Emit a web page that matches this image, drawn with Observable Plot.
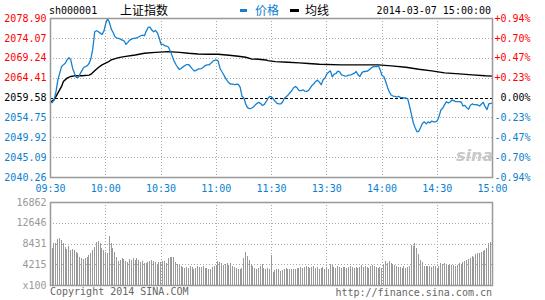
<!DOCTYPE html>
<html><head><meta charset="utf-8">
<script src="https://cdn.jsdelivr.net/npm/d3@7"></script>
<script src="https://cdn.jsdelivr.net/npm/@observablehq/plot@0.6"></script>
<style>
body{margin:0;background:#fff;}
#wrap{position:relative;width:545px;height:300px;overflow:hidden;background:#fff;font-family:"DejaVu Sans Mono",monospace;font-size:10px;}
#wrap svg{position:absolute;left:0;top:0;}
.t{position:absolute;white-space:nowrap;line-height:12px;}
.cjk{font-family:"Noto Sans CJK SC",sans-serif;font-size:12px;line-height:14px;}
</style></head>
<body><div id="wrap"></div>
<script>
// ---- data ----
const symbol = "sh000001";
const indexName = "上证指数";
const legendNames = ["价格", "均线"];
const stamp = "2014-03-07 15:00:00";
const prevClose = 2059.58;
const yTicks = [2078.90, 2074.07, 2069.24, 2064.41, 2059.58, 2054.75, 2049.92, 2045.09, 2040.26];
const pctLabels = ["+0.94%", "+0.70%", "+0.47%", "+0.23%", "0.00%", "-0.23%", "-0.47%", "-0.70%", "-0.94%"];
const xTickMin = [0, 30, 60, 90, 120, 150, 180, 210, 240];
const xTickLabels = ["09:30", "10:00", "10:30", "11:00", "11:30", "13:30", "14:00", "14:30", "15:00"];
const volTicks = [16862, 12646, 8431, 4215];
const volUnit = "x100";

const priceMin = [0,1,2,3,4,5,6,7,8,9,10,11,12,13,14,15,16,17,18,20,21,22,23,24,25,26,27,28,29,30,31,32,33,34,35,36,37,38,39,40,41,42,43,44,45,46,47,48,49,50,51,52,53,54,55,56,57,58,59,60,61,62,63,64,65,66,67,68,69,70,71,72,73,74,75,76,77,78,79,80,81,82,83,84,85,86,87,88,89,90,91,92,93,94,95,96,97,98,99,100,101,102,103,104,105,106,107,108,109,110,111,112,113,114,115,116,117,118,119,120,121,122,123,124,125,126,127,128,129,130,131,132,133,134,135,136,137,138,139,140,141,142,143,144,145,146,147,148,149,150,151,152,153,154,155,156,157,158,159,160,161,162,163,164,165,166,167,168,169,170,171,172,173,174,175,176,177,178,179,180,181,182,183,184,185,186,187,188,189,190,191,192,193,194,195,196,197,198,199,200,201,202,203,204,205,206,207,208,209,210,211,212,213,214,215,216,217,218,219,220,221,222,223,224,225,226,227,228,229,230,231,232,233,234,235,236,237,238,239,240];
const priceVal = [2058.52,2058.45,2059.17,2061.19,2064.00,2065.61,2067.22,2067.63,2068.03,2068.83,2069.40,2068.83,2066.82,2065.61,2064.57,2064.57,2065.37,2066.18,2066.98,2067.46,2068.03,2069.24,2071.65,2075.68,2075.92,2075.68,2075.35,2075.03,2075.84,2077.69,2078.90,2077.93,2076.32,2075.51,2074.47,2074.15,2074.07,2073.90,2073.66,2073.42,2072.62,2073.10,2073.66,2073.90,2074.07,2074.07,2074.23,2074.47,2074.71,2074.87,2074.71,2075.84,2076.72,2076.80,2076.08,2075.68,2076.00,2075.43,2074.23,2072.62,2072.62,2072.29,2072.21,2071.97,2071.01,2069.88,2068.67,2067.79,2067.06,2066.50,2066.82,2067.14,2067.46,2067.71,2067.71,2067.22,2066.66,2066.18,2066.26,2066.58,2066.66,2066.74,2067.06,2067.46,2067.63,2067.63,2067.95,2068.43,2068.75,2068.83,2068.59,2066.82,2066.02,2065.29,2064.41,2063.76,2063.20,2062.96,2062.96,2062.80,2062.96,2062.88,2062.15,2059.98,2059.58,2058.13,2057.24,2057.00,2057.08,2057.32,2057.80,2058.21,2058.53,2058.29,2057.80,2057.97,2058.61,2059.41,2059.98,2059.82,2059.33,2058.77,2058.29,2058.13,2058.13,2058.61,2059.50,2059.90,2060.30,2060.86,2061.35,2062.07,2062.39,2061.99,2061.35,2061.35,2061.59,2061.27,2061.19,2061.35,2061.99,2062.64,2063.04,2063.60,2063.92,2063.44,2062.80,2064.00,2064.41,2065.37,2065.85,2066.18,2064.73,2065.37,2065.53,2066.10,2065.94,2065.21,2065.05,2064.89,2064.97,2065.13,2065.21,2065.37,2065.61,2066.02,2065.21,2064.81,2065.69,2066.02,2066.02,2066.10,2066.42,2066.82,2067.14,2067.22,2067.22,2067.46,2066.42,2065.05,2064.81,2063.60,2062.15,2061.03,2060.30,2060.06,2059.98,2059.82,2059.98,2059.74,2059.66,2059.58,2059.58,2059.33,2057.56,2055.55,2053.54,2052.33,2051.36,2051.52,2052.49,2053.46,2053.78,2053.30,2053.78,2053.54,2053.94,2053.78,2053.78,2054.02,2055.15,2056.68,2057.16,2057.97,2058.69,2058.37,2058.61,2059.09,2058.93,2058.69,2058.69,2058.69,2058.61,2057.64,2057.80,2057.24,2056.84,2057.80,2058.13,2057.97,2057.97,2057.88,2057.64,2058.13,2058.53,2057.48,2056.76,2058.13,2058.29,2058.29];

const avgMin = [0,2,4,6,7,9,11,13,17,21,22,24,26,28,31,33,37,40,46,51,57,64,70,75,80,86,91,97,102,106,109,113,117,118,122,129,135,140,146,158,173,178,185,193,200,207,214,222,229,236,240];
const avgVal = [2058.61,2059.17,2060.78,2062.39,2063.60,2064.41,2064.81,2064.97,2064.97,2065.13,2065.37,2066.18,2066.98,2067.63,2068.27,2068.83,2069.40,2069.64,2070.04,2070.44,2070.68,2070.85,2070.68,2070.44,2070.28,2070.20,2070.20,2069.96,2069.72,2069.48,2069.07,2068.99,2068.83,2068.67,2068.43,2068.27,2068.11,2067.95,2067.79,2067.63,2067.63,2067.63,2067.38,2067.06,2066.58,2066.18,2065.69,2065.45,2065.21,2064.97,2064.89];

const volume = [
7450,8460,8600,9270,9470,9130,8460,7790,7250,7930,
7110,7250,7110,6770,6430,5770,5430,5220,5430,5770,
6090,6430,7110,7790,8800,9000,8460,7450,7110,6770,
6430,9950,8460,7450,6770,5770,4960,5090,5430,5200,
4960,4760,5220,5090,5430,5090,5430,5090,4760,4960,
4420,4420,4760,4960,5090,4960,4760,4290,4760,4760,
4960,4890,4420,5430,5630,5770,5630,4620,4290,4080,
3890,3620,3480,3620,3480,3820,3620,3150,3480,3820,
3620,3620,3820,3480,3480,3350,3150,3620,3820,4080,
4890,4760,4560,4080,4290,4420,4080,4560,3820,3620,
3480,3350,3150,3480,5430,6770,5900,5090,4290,3760,
3480,3150,3480,3820,4290,3480,3150,3480,3150,6090,
2740,3010,3150,3150,2880,3010,3220,3480,3350,3150,
3150,3350,3150,3480,3480,3620,3480,3620,3820,3620,
3480,3620,3820,3480,3620,3350,3480,3620,3350,3620,
3150,4290,4160,3620,3480,3820,3620,3480,3620,3620,
3480,3620,3820,3620,3480,3620,3480,3620,4020,3620,
3820,3620,3480,3820,4020,3820,3620,3480,3620,3480,
4020,4960,4420,4960,4420,4220,4020,3760,3620,3620,
3480,3820,3480,3620,3820,8100,7990,8460,7450,6230,
5090,4760,3890,3760,3890,3760,3620,3890,3760,3480,
3890,4420,4220,4420,4220,4020,4220,4020,4020,3760,
4020,4420,4220,4760,4960,5090,5220,5430,5900,5630,
6230,6430,6570,6770,6980,7180,7450,8460,8800,9950];

// ---- styles ----
const RED = "#ff0000", BLUE = "#0a80d0", LINE_BLUE = "#1580d0", GRID = "#aaaaaa", FRAME = "#999999";
const FONT = "DejaVu Sans Mono";
const W = 545, H = 300, ML = 50, MR = 53;

const wrap = document.getElementById("wrap");

const priceData = priceMin.map((m, i) => ({m, p: priceVal[i]}));
const avgData = avgMin.map((m, i) => ({m, p: avgVal[i]}));
const yLab = yTicks.map((v, i) => ({v, label: v.toFixed(2), pct: pctLabels[i],
  color: v > prevClose + 0.001 ? RED : (Math.abs(v - prevClose) < 0.001 ? "#000" : BLUE)}));
const xLab = xTickMin.map((m, i) => ({m, label: xTickLabels[i]}));
const innerX = xTickMin.slice(1, -1);
const innerY = yTicks.filter(v => v !== yTicks[0] && v !== yTicks[yTicks.length - 1] && v !== prevClose);

const main = Plot.plot({
  width: W, height: H,
  marginLeft: ML, marginRight: MR, marginTop: 18, marginBottom: H - 177,
  style: {fontFamily: FONT, fontSize: "10px", background: "transparent", overflow: "visible"},
  x: {domain: [0, 240], axis: null},
  y: {domain: [yTicks[yTicks.length - 1], yTicks[0]], axis: null},
  marks: [
    Plot.ruleY(innerY, {stroke: GRID, strokeDasharray: "1,2", strokeWidth: 1, shapeRendering: "crispEdges"}),
    Plot.ruleX(innerX, {stroke: GRID, strokeDasharray: "1,2", strokeWidth: 1, shapeRendering: "crispEdges"}),
    Plot.ruleY([prevClose], {stroke: "#000", strokeDasharray: "3,2", strokeWidth: 1, shapeRendering: "crispEdges"}),
    Plot.line(avgData, {x: "m", y: "p", stroke: "#000", strokeWidth: 1.4}),
    Plot.line(priceData, {x: "m", y: "p", stroke: LINE_BLUE, strokeWidth: 1.3}),
    Plot.frame({stroke: FRAME, strokeWidth: 1.5}),
    Plot.text(yLab, {x: 0, y: "v", text: "label", fill: "color", dx: -4, textAnchor: "end", fontSize: 10}),
    Plot.text(yLab, {x: 240, y: "v", text: "pct", fill: "color", dx: 38, textAnchor: "end", fontSize: 10}),
    Plot.text(xLab, {x: "m", y: yTicks[yTicks.length - 1], text: "label", fill: BLUE, dy: 11, fontSize: 10})
  ]
});
wrap.appendChild(main);

const volData = volume.map((v, i) => ({i: i + 0.9, v}));
const volLab = volTicks.map(v => ({v, label: String(v)})).concat([{v: 0, label: volUnit}]);
const vol = Plot.plot({
  width: W, height: H,
  marginLeft: ML, marginRight: MR, marginTop: 202, marginBottom: H - 285,
  style: {fontFamily: FONT, fontSize: "10px", background: "transparent", overflow: "visible"},
  x: {domain: [0, 240], axis: null},
  y: {domain: [0, volTicks[0]], axis: null},
  marks: [
    Plot.ruleY(volTicks.slice(1), {stroke: GRID, strokeDasharray: "1,2", strokeWidth: 1, shapeRendering: "crispEdges"}),
    Plot.ruleX(innerX, {stroke: GRID, strokeDasharray: "1,2", strokeWidth: 1, shapeRendering: "crispEdges"}),
    Plot.ruleX(volData, {x: "i", y1: 0, y2: "v", stroke: "#999", strokeWidth: 1, shapeRendering: "crispEdges"}),
    Plot.frame({stroke: FRAME, strokeWidth: 1.5}),
    Plot.text(volLab, {x: 0, y: "v", text: "label", fill: "#999", dx: -4, textAnchor: "end", fontSize: 10})
  ]
});
wrap.appendChild(vol);

function addText(txt, left, top, color, cls, extra) {
  const d = document.createElement("div");
  d.className = "t " + (cls || "");
  d.textContent = txt;
  d.style.left = left + "px"; d.style.top = top + "px"; d.style.color = color;
  if (extra) Object.assign(d.style, extra);
  wrap.appendChild(d);
  return d;
}
function addBox(left, top, w, h, color) {
  const d = document.createElement("div");
  Object.assign(d.style, {position: "absolute", left: left + "px", top: top + "px", width: w + "px", height: h + "px", background: color});
  wrap.appendChild(d);
}
addText(symbol, 49, 5, "#000");
addText(indexName, 120, 3, "#000", "cjk");
addBox(240, 9, 7, 3, LINE_BLUE);
addText(legendNames[0], 255, 3, BLUE, "cjk");
addBox(290, 9, 9, 3, "#000");
addText(legendNames[1], 305, 3, "#000", "cjk");
addText(stamp, 0, 5, "#000", "", {left: "auto", right: (W - 491) + "px"});
addText("Copyright 2014 SINA.COM", 50, 286, "#666");
addText("http://finance.sina.com.cn", 0, 287, "#666", "", {left: "auto", right: (W - 492) + "px"});
addText("sina", 456, 147, "#c8c8c8", "", {fontFamily: "DejaVu Sans", fontWeight: "bold", fontStyle: "italic", fontSize: "16px", lineHeight: "18px"});
</script></body></html>
